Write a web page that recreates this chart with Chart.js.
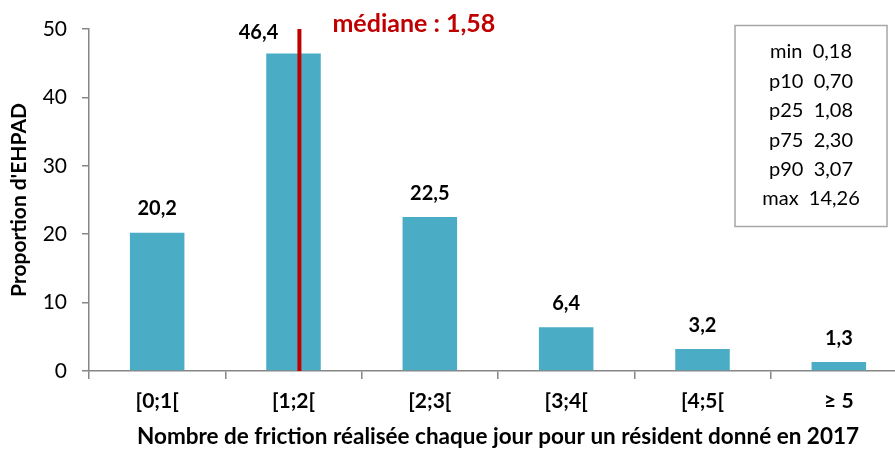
<!DOCTYPE html>
<html>
<head>
<meta charset="utf-8">
<script src="https://cdn.jsdelivr.net/npm/chart.js@4.4.0/dist/chart.umd.min.js"></script>
<style>
html,body{margin:0;padding:0;background:#fff;overflow:hidden;}
</style>
</head>
<body>
<canvas id="myChart" width="907" height="450"></canvas>
<script>
// categories + values (proportion d'EHPAD, %)
var categories=['[0;1[','[1;2[','[2;3[','[3;4[','[4;5[','\u2265 5'];
var proportions=[20.2,46.4,22.5,6.4,3.2,1.3];
var valueLabels=['20,2','46,4','22,5','6,4','3,2','1,3'];

var yTicks=[0,10,20,30,40,50];

// median, in friction units
var medianValue=1.58;
var medianLabel='m\u00e9diane : 1,58';

// summary box
var statNames=['min','p10','p25','p75','p90','max'];
var statValues=['0,18','0,70','1,08','2,30','3,07','14,26'];

var fontFam="Lato, 'Open Sans', sans-serif";
var barColor='#4BACC6';
var axisColor='#868686';
var red='#C00000';

var extras={
	id:'extras',
	afterDatasetsDraw:function(chart){
		var ctx=chart.ctx;
		var meta=chart.getDatasetMeta(0);
		var ys=chart.scales.y;
		var area=chart.chartArea;
		// median line: bins are 1 unit wide, category i spans [i;i+1[
		var step=(area.right-area.left)/categories.length;
		var mx=area.left+medianValue*step - 5;
		ctx.save();
		ctx.strokeStyle=red;
		ctx.lineWidth=4;
		ctx.beginPath();
		ctx.moveTo(mx,ys.getPixelForValue(50));
		ctx.lineTo(mx,ys.getPixelForValue(0));
		ctx.stroke();

		ctx.fillStyle=red;
		ctx.font="bold 25px "+fontFam;
		ctx.textAlign='left';
		ctx.textBaseline='middle';
		ctx.fillText(medianLabel,mx+33,24);

		// value labels
		ctx.fillStyle='#000';
		ctx.font="bold 20px "+fontFam;
		ctx.textAlign='center';
		for(var i=0;i<meta.data.length;i++){
			var bar=meta.data[i];
			var dx=0, dy=24;
			if(i==1){dx=-35; dy=21;} // keep clear of median line
			ctx.fillText(valueLabels[i],bar.x+dx,bar.y-dy);
		}

		// stats box
		ctx.strokeStyle='#A6A6A6';
		ctx.lineWidth=1.5;
		ctx.strokeRect(735,25.5,152,201);
		ctx.font="20px "+fontFam;
		ctx.fillStyle='#000';
		for(var j=0;j<statNames.length;j++){
			ctx.fillText(statNames[j]+'  '+statValues[j],811,52+j*29.4);
		}
		ctx.restore();
	}
};

var ctx=document.getElementById('myChart').getContext('2d');
var myChart=new Chart(ctx,{
	type:'bar',
	data:{
		labels:categories,
		datasets:[{
			data:proportions,
			backgroundColor:barColor,
			borderWidth:0,
			barPercentage:0.4,
			categoryPercentage:1
		}]
	},
	options:{
		responsive:false,
		animation:false,
		layout:{padding:{top:29,right:0,left:0,bottom:0}},
		plugins:{legend:{display:false},tooltip:{enabled:false}},
		scales:{
			x:{
				grid:{offset:true,drawOnChartArea:false,drawTicks:true,tickLength:8,color:axisColor,lineWidth:1.5},
				border:{color:axisColor,width:1.5},
				ticks:{color:'#000',font:{family:fontFam,size:21,weight:'bold'},padding:10,maxRotation:0},
				title:{display:true,text:'Nombre de friction r\u00e9alis\u00e9e chaque jour pour un r\u00e9sident donn\u00e9 en 2017',color:'#000',font:{family:fontFam,size:22.5,weight:'bold'},padding:{top:2,bottom:0}},
				afterFit:function(s){s.height=79;}
			},
			y:{
				min:0,max:50,
				afterBuildTicks:function(s){s.ticks=yTicks.map(function(v){return {value:v};});},
				grid:{drawOnChartArea:false,drawTicks:true,tickLength:7,color:axisColor,lineWidth:1.5},
				border:{color:axisColor,width:1.5},
				ticks:{color:'#000',font:{family:fontFam,size:21},padding:15},
				title:{display:true,text:"Proportion d'EHPAD",color:'#000',font:{family:fontFam,size:21,weight:'bold'},padding:{top:7,bottom:0}},
				afterFit:function(s){s.width=89;}
			}
		}
	},
	plugins:[extras]
});
</script>
</body>
</html>
